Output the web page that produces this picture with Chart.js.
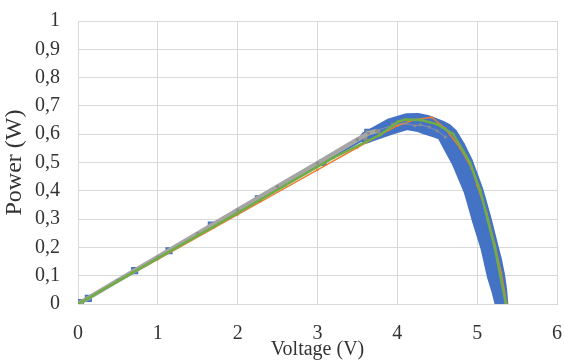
<!DOCTYPE html>
<html>
<head>
<meta charset="utf-8">
<script src="https://cdn.jsdelivr.net/npm/chart.js@4.4.1/dist/chart.umd.min.js"></script>
<style>
  html, body { margin: 0; padding: 0; background: #ffffff; }
  #wrap { width: 565px; height: 363px; position: relative; }
</style>
</head>
<body>
<div id="wrap"><canvas id="c"></canvas></div>
<script>
// ---- data ----
const xTickLabels = ['0', '1', '2', '3', '4', '5', '6'];
const yTickLabels = ['0', '0,1', '0,2', '0,3', '0,4', '0,5', '0,6', '0,7', '0,8', '0,9', '1'];

// blue series: sparse measured points on the rising part
const blueV = [0, 0.03, 0.13, 0.71, 1.14, 1.67, 2.26, 3.07, 3.6, 3.63, 3.76, 3.95];
const blueP = [0, 0.005, 0.02, 0.118, 0.188, 0.279, 0.372, 0.5, 0.585, 0.607, 0.61, 0.633];

// blue series: dense points around the knee, upper/right sweep
const blueUpperV = [3.61, 3.91, 4.12, 4.25, 4.37, 4.54, 4.62, 4.685, 4.78, 4.875, 4.94, 5.005, 5.055, 5.105, 5.15, 5.195, 5.24, 5.275, 5.3, 5.315];
const blueUpperP = [0.588, 0.635, 0.653, 0.654, 0.647, 0.629, 0.617, 0.6, 0.555, 0.5, 0.45, 0.4, 0.35, 0.3, 0.25, 0.2, 0.15, 0.1, 0.05, 0.0];

// blue series: dense points around the knee, lower/left sweep
const blueLowerV = [3.61, 3.91, 4.12, 4.25, 4.37, 4.46, 4.565, 4.66, 4.755, 4.83, 4.905, 4.955, 5.005, 5.06, 5.115, 5.155, 5.195, 5.25, 5.295];
const blueLowerP = [0.589, 0.618, 0.636, 0.63, 0.618, 0.61, 0.6, 0.55, 0.5, 0.45, 0.4, 0.35, 0.3, 0.25, 0.2, 0.15, 0.1, 0.05, 0.0];

// orange series
const orangeV = [0, 1, 2, 3, 3.5, 3.8, 4.0, 4.2, 4.43, 4.6, 4.79, 4.93, 5.0, 5.12, 5.22, 5.3, 5.37];
const orangeP = [0, 0.158, 0.316, 0.474, 0.553, 0.6, 0.63, 0.65, 0.66, 0.62, 0.55, 0.48, 0.42, 0.32, 0.21, 0.11, 0];

// gray series
const grayV = [0, 0.5, 1, 1.5, 2, 2.5, 3, 3.5, 3.64, 3.74, 3.95, 4.11, 4.22, 4.29, 4.4, 4.5, 4.6];
const grayP = [0, 0.083, 0.166, 0.249, 0.332, 0.415, 0.498, 0.581, 0.603, 0.612, 0.633, 0.638, 0.63, 0.633, 0.625, 0.612, 0.59];

// green series
const greenV = [0, 0.12, 0.67, 1.24, 1.97, 2.6, 3.2, 3.78, 4.01, 4.1, 4.3, 4.5, 4.7, 4.91, 5.04, 5.13, 5.22, 5.29, 5.36];
const greenP = [0, 0.019, 0.108, 0.2, 0.317, 0.42, 0.517, 0.597, 0.644, 0.652, 0.65, 0.635, 0.6, 0.5, 0.4, 0.3, 0.2, 0.1, 0];

// ---- build chart ----
const pts = (xs, ys) => xs.map((x, i) => ({ x: x, y: ys[i] }));
const BLUE = '#4472C4', ORANGE = '#ED7D31', GRAY = '#A5A5A5', GREEN = '#70AD47';

const datasets = [
  {
    data: pts(blueUpperV, blueUpperP), showLine: true, order: 6,
    borderColor: BLUE, borderWidth: 12, borderJoinStyle: 'round', borderCapStyle: 'round',
    pointStyle: 'rect', pointRadius: 6, pointRotation: 10,
    pointBackgroundColor: BLUE, pointBorderColor: BLUE, pointBorderWidth: 0
  },
  {
    data: pts(blueLowerV, blueLowerP), showLine: true, order: 5,
    borderColor: BLUE, borderWidth: 12, borderJoinStyle: 'round', borderCapStyle: 'round',
    pointStyle: 'rect', pointRadius: 6, pointRotation: 10,
    pointBackgroundColor: BLUE, pointBorderColor: BLUE, pointBorderWidth: 0
  },
  {
    data: pts(blueV, blueP), showLine: true, order: 4,
    borderColor: BLUE, borderWidth: 2, pointStyle: 'rect', pointRadius: 4,
    pointBackgroundColor: '#8c8c8c', pointBorderColor: BLUE, pointBorderWidth: 1.5
  },
  {
    data: pts(orangeV, orangeP), showLine: true, order: 3,
    borderColor: ORANGE, borderWidth: 1.5, pointStyle: 'circle', pointRadius: 1.3,
    pointBackgroundColor: ORANGE, pointBorderColor: ORANGE, pointBorderWidth: 0
  },
  {
    data: pts(grayV, grayP), showLine: true, order: 2,
    borderColor: GRAY, borderWidth: 4.5, pointStyle: 'rect', pointRadius: 2,
    pointBackgroundColor: '#8c8c8c', pointBorderColor: '#8c8c8c', pointBorderWidth: 0,
    segment: {
      borderWidth: (ctx) => (ctx.p0.parsed.x >= 3.7 ? 1 : undefined),
      borderColor: (ctx) => (ctx.p0.parsed.x >= 3.7 ? 'rgba(165,165,165,0.6)' : undefined)
    }
  },
  {
    data: pts(greenV, greenP), showLine: true, order: 1,
    borderColor: GREEN, borderWidth: 2.5, pointStyle: 'rect', pointRadius: 2,
    pointBackgroundColor: GREEN, pointBorderColor: GREEN, pointBorderWidth: 0
  }
];

const SERIF = "'Liberation Serif', 'Times New Roman', serif";
const NOTICK = 'rgba(0,0,0,0)';

new Chart(document.getElementById('c'), {
  type: 'scatter',
  data: { datasets: datasets },
  options: {
    responsive: true,
    maintainAspectRatio: false,
    animation: false,
    devicePixelRatio: 1,
    layout: { padding: { top: 21, right: 8, bottom: 0, left: 0 } },
    plugins: { legend: { display: false }, tooltip: { enabled: false } },
    elements: { line: { tension: 0 } },
    scales: {
      x: {
        type: 'linear', min: 0, max: 6,
        afterFit: (s) => { s.height = 59; },
        ticks: {
          stepSize: 1, padding: 0, color: '#333333',
          font: { family: SERIF, size: 20 },
          callback: (v) => xTickLabels[Math.round(v)]
        },
        grid: { color: '#d9d9d9', lineWidth: 1, drawTicks: true, tickLength: 18, tickColor: NOTICK },
        border: { display: true, color: '#d9d9d9', width: 1 },
        title: {
          display: true, text: 'Voltage (V)', color: '#333333',
          font: { family: SERIF, size: 20 }, padding: { top: 0, bottom: 1 }
        }
      },
      y: {
        type: 'linear', min: 0, max: 1,
        afterFit: (s) => { s.width = 78; },
        ticks: {
          stepSize: 0.1, padding: 0, color: '#333333',
          font: { family: SERIF, size: 20 },
          callback: (v) => yTickLabels[Math.round(v * 10)]
        },
        grid: { color: '#d9d9d9', lineWidth: 1, drawTicks: true, tickLength: 18, tickColor: NOTICK },
        border: { display: true, color: '#d9d9d9', width: 1 },
        title: {
          display: true, text: 'Power (W)', color: '#333333',
          font: { family: SERIF, size: 24 }, padding: { top: 0, bottom: 0 }
        }
      }
    }
  }
});
</script>
</body>
</html>
